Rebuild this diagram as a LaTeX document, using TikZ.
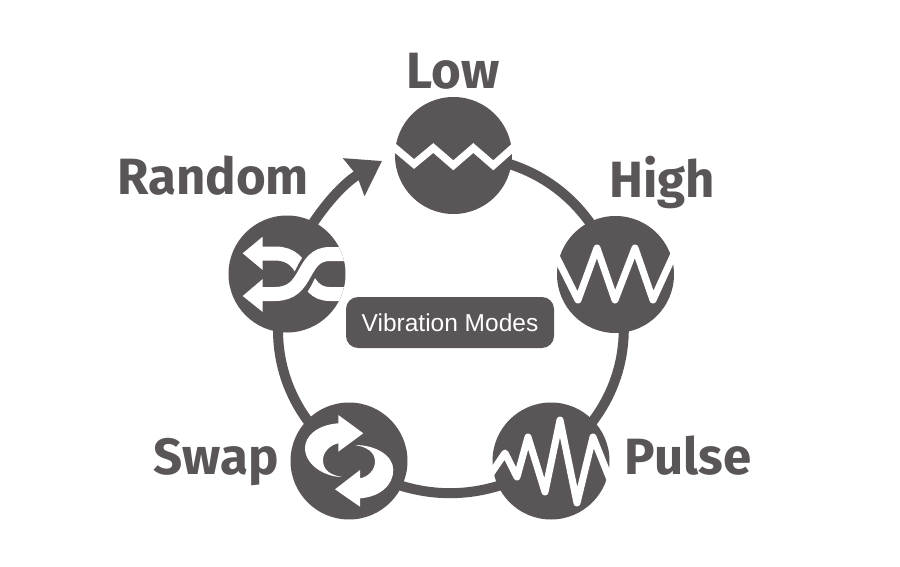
\documentclass[tikz,border=0pt]{standalone}
\usepackage{fontspec}
\setmainfont{Fira Sans}
\newfontfamily\boxfont{Liberation Sans}
\usetikzlibrary{arrows.meta}
\definecolor{ink}{HTML}{5A5556}
\pgfdeclarelayer{under}
\pgfsetlayers{under,main}
\tikzset{
  hub/.style={circle,fill=ink,draw=none,minimum size=117pt,inner sep=0pt},
  ringline/.style={draw=ink,line width=10pt},
  wave/.style={draw=white,line width=7pt,line join=round},
  lab/.style={text=ink,font=\fontsize{51}{51}\selectfont\bfseries,inner sep=0pt,anchor=center},
  glyph/.style={fill=white,draw=none},
  strand/.style={draw=white,line width=14pt},
  strandgap/.style={draw=ink,line width=21pt}
}
\begin{document}
\begin{tikzpicture}[x=1pt,y=-1pt]
\useasboundingbox (0,0) rectangle (900,567);
\node[hub] (low) at (453.5,155.5) {};
\node[hub] (high) at (615.5,274.5) {};
\node[hub] (pulse) at (551,461) {};
\node[hub] (swap) at (349,461) {};
\node[hub] (random) at (287,274) {};
\coordinate (arrowtip) at (382,161);
\begin{pgfonlayer}{under}
\fill[white] (0,0) rectangle (900,567);
\draw[ringline] (low.center) to[bend left=36] (high.center);
\draw[ringline] (high.center) to[bend left=36] (pulse.center);
\draw[ringline] (pulse.center) to[bend left=33] (swap.center);
\draw[ringline] (swap.center) to[bend left=36] (random.center);
\draw[ringline,-{Stealth[length=32pt,width=42pt,inset=3pt]}] (random.center) .. controls (305,225) and (340,185) .. (arrowtip);
\end{pgfonlayer}
% Low
\draw[wave,line join=miter,line width=7.5pt] (392,145.5) -- (414,164) -- (433.3,148) -- (453.3,165.3) -- (473.3,148) -- (493.3,165.3) -- (515,146);
% High
\draw[wave] (556,256) -- (578,300) -- (597,248) -- (615,300) -- (635,248) -- (653,300) -- (674,254);
% Pulse
\draw[wave] (490,475) -- (505,453) -- (517,477) -- (528,437) -- (545,492) -- (560,420) -- (577,503) -- (593,437) -- (611,482);
% Swap
\fill[glyph] (363.3,433.3) -- (338.3,415) -- (338.3,423.3) .. controls (316,425) and (305,437) .. (305,448) .. controls (305,465) and (325,477) .. (342,477) .. controls (330,475) and (323,470) .. (323,460) .. controls (323,452) and (330,445) .. (338.3,443.3) -- (338.3,451.7) -- cycle;
\fill[glyph] (335,489.3) -- (360,470) -- (360,478.3) .. controls (368,477) and (375,470) .. (375,461.7) .. controls (375,452) and (367,447) .. (355,445) .. controls (375,445) and (393.3,455) .. (393.3,470) .. controls (393.3,485) and (380,497) .. (360,498.3) -- (360,506.7) -- cycle;
% Random
\begin{scope}
\clip (287,274) circle (58.5pt);
\draw[strand] (262,253.5) -- (275,253.5) .. controls (310,253.5) and (300,294) .. (330,294) -- (350,294);
\draw[strandgap] (286,294) .. controls (305,294) and (305,254) .. (326,254);
\draw[strand] (262,294) -- (275,294) .. controls (310,294) and (300,254) .. (330,254) -- (350,254);
\end{scope}
\fill[glyph] (242.7,253.3) -- (262.7,236.7) -- (262.7,270) -- cycle;
\fill[glyph] (242.7,296) -- (262.7,279) -- (262.7,312) -- cycle;
% Labels
\node[lab] (lablow) at (453,71) {Low};
\node[lab] (labhigh) at (662,182) {High};
\node[lab] (labrandom) at (213,176) {Random};
\node[lab] (labswap) at (216,462) {Swap};
\node[lab] (labpulse) at (688,456) {Pulse};
\node[fill=ink,rounded corners=12pt,minimum width=208pt,minimum height=51pt,inner sep=0pt,text=white,font=\boxfont\fontsize{24.5}{24.5}\selectfont] (modes) at (450,322.5) {Vibration Modes};
\end{tikzpicture}
\end{document}
